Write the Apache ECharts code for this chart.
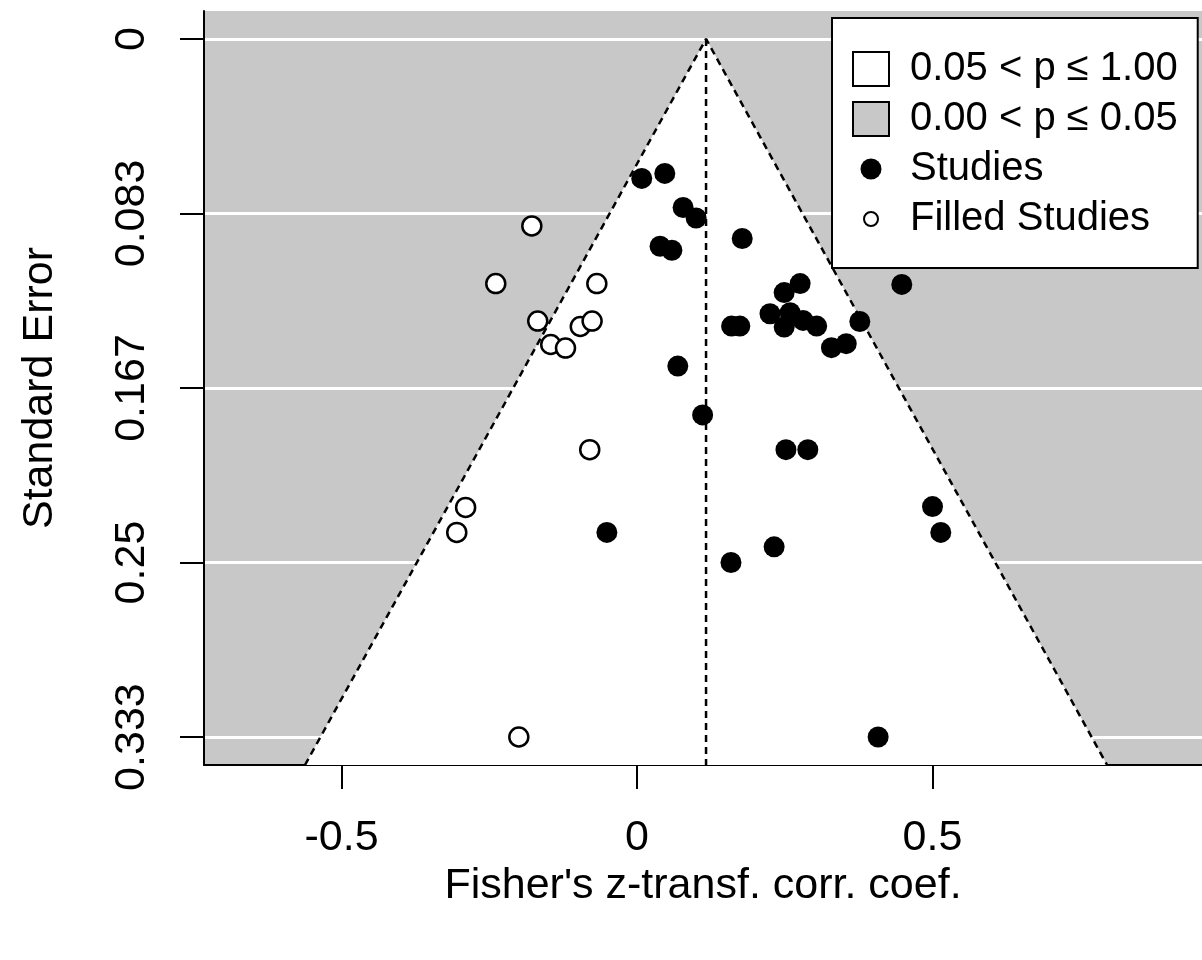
<!DOCTYPE html>
<html><head><meta charset="utf-8">
<script src="https://cdn.jsdelivr.net/npm/echarts@6/dist/echarts.min.js"></script>
<style>html,body{margin:0;padding:0;background:#fff}#c{width:1202px;height:960px}</style>
</head><body><div id="c"></div>
<script>
// Observed studies (Fisher's z, standard error)
const studiesZ  = [0.008, 0.047, 0.078, 0.100, 0.039, 0.059, 0.178, 0.448, 0.276, 0.249,
                   0.225, 0.259, 0.249, 0.281, 0.304, 0.377, 0.329, 0.354, 0.160, 0.174,
                   0.069, 0.111, 0.252, 0.289, 0.500, 0.514, -0.051, 0.232, 0.159, 0.408, 0.388];
const studiesSE = [0.0666, 0.0642, 0.0805, 0.0855, 0.0990, 0.1009, 0.0953, 0.1172, 0.1168, 0.1211,
                   0.1312, 0.1307, 0.1376, 0.1344, 0.1371, 0.1349, 0.1474, 0.1455, 0.1371, 0.1371,
                   0.1562, 0.1795, 0.1961, 0.1961, 0.2233, 0.2356, 0.2356, 0.2425, 0.2500, 0.3333, 0.0893];
// Filled (imputed) studies
const filledZ  = [-0.178, -0.239, -0.068, -0.168, -0.096, -0.076, -0.146, -0.121, -0.080, -0.290, -0.305, -0.200];
const filledSE = [0.0893, 0.1168, 0.1168, 0.1347, 0.1373, 0.1347, 0.1459, 0.1476, 0.1961, 0.2237, 0.2356, 0.3333];
// Funnel (95% pseudo-confidence region) and reference line
const funnelZ  = [-0.5618, 0.1168, 0.7954];
const funnelSE = [0.346667, 0, 0.346667];
const refZ  = [0.1168, 0.1168];
const refSE = [0, 0.346667];
// Axes
const xRange = [-0.7327, 0.956];
const seRange = [-0.013333, 0.346667];
const xTicks = [-0.5, 0, 0.5];
const xTickLabels = ['-0.5', '0', '0.5'];
const seTicks = [0, 0.083333, 0.166667, 0.25, 0.333333];
const seTickLabels = ['0', '0.083', '0.167', '0.25', '0.333'];
const legendLabels = ['0.05 < p \u2264 1.00', '0.00 < p \u2264 0.05', 'Studies', 'Filled Studies'];
const xTitle = "Fisher's z-transf. corr. coef.";
const yTitle = 'Standard Error';

const FONT = "'Liberation Sans', Arial, sans-serif";
const GRAY = '#c8c8c8';

function pick(ticks, labels, v) {
  for (let i = 0; i < ticks.length; i++) if (Math.abs(ticks[i] - v) < 1e-6) return labels[i];
  return '';
}

const chart = echarts.init(document.getElementById('c'), null, {renderer: 'canvas'});
chart.setOption({
  animation: false,
  backgroundColor: '#fff',
  grid: {left: 204, right: 0, top: 11, bottom: 195, show: true, backgroundColor: GRAY, borderWidth: 0},
  xAxis: {
    type: 'value', min: xRange[0], max: xRange[1],
    name: xTitle, nameLocation: 'middle', nameGap: 98,
    nameTextStyle: {fontFamily: FONT, fontSize: 43, color: '#000'},
    axisLine: {onZero: false, lineStyle: {color: '#000', width: 2}},
    axisTick: {length: 24, lineStyle: {color: '#000', width: 2}, customValues: xTicks},
    axisLabel: {fontFamily: FONT, fontSize: 43, color: '#000', margin: 52, customValues: xTicks,
      formatter: v => pick(xTicks, xTickLabels, v)},
    splitLine: {show: false}
  },
  yAxis: {
    type: 'value', inverse: true, min: seRange[0], max: seRange[1],
    name: yTitle, nameLocation: 'middle', nameGap: 142, nameRotate: 90,
    nameTextStyle: {fontFamily: FONT, fontSize: 43, color: '#000'},
    axisLine: {onZero: false, lineStyle: {color: '#000', width: 2}},
    axisTick: {length: 24, lineStyle: {color: '#000', width: 2}, customValues: seTicks},
    axisLabel: {fontFamily: FONT, fontSize: 43, color: '#000', margin: 50, rotate: 90, customValues: seTicks,
      formatter: v => pick(seTicks, seTickLabels, v)},
    splitLine: {show: true, lineStyle: {color: '#fff', width: 3}}
  },
  legend: {
    orient: 'vertical', left: 832, top: 18,
    padding: [30, 20, 28, 20], itemGap: 8, itemWidth: 36, itemHeight: 34,
    backgroundColor: '#fff', borderColor: '#000', borderWidth: 2, borderRadius: 0,
    selectedMode: false,
    textStyle: {fontFamily: FONT, fontSize: 40, color: '#000', lineHeight: 42, padding: [0, 0, 0, 16]},
    data: [
      {name: legendLabels[0], icon: 'rect', itemStyle: {color: '#fff', borderColor: '#000', borderWidth: 2}},
      {name: legendLabels[1], icon: 'rect', itemStyle: {color: GRAY, borderColor: '#000', borderWidth: 2}},
      {name: legendLabels[2], icon: 'path://M0,0M36,34M7.5,17A10.5,10.5,0,1,0,28.5,17A10.5,10.5,0,1,0,7.5,17Z',
        itemStyle: {color: '#000', borderWidth: 0}},
      {name: legendLabels[3], icon: 'path://M0,0M36,34M11,17A7,7,0,1,0,25,17A7,7,0,1,0,11,17Z',
        itemStyle: {color: '#fff', borderColor: '#000', borderWidth: 2}}
    ]
  },
  series: [
    {
      name: legendLabels[1], type: 'custom', data: [], itemStyle: {color: GRAY},
      renderItem: () => null
    },
    {
      name: legendLabels[0], type: 'custom', z: 1, itemStyle: {color: '#fff'},
      data: funnelZ.map((z, i) => [z, funnelSE[i]]),
      encode: {x: 0, y: 1},
      renderItem: function (params, api) {
        if (params.dataIndex !== 0) return null;
        const pts = funnelZ.map((z, i) => api.coord([z, funnelSE[i]]));
        return {type: 'polygon', shape: {points: pts}, style: {fill: '#fff'}};
      }
    },
    {
      type: 'line', z: 2, symbol: 'none', silent: true,
      data: funnelZ.map((z, i) => [z, funnelSE[i]]),
      lineStyle: {color: '#000', width: 2.5, type: [7, 5]}
    },
    {
      type: 'line', z: 2, symbol: 'none', silent: true,
      data: refZ.map((z, i) => [z, refSE[i]]),
      lineStyle: {color: '#000', width: 2.5, type: [7, 5]}
    },
    {
      name: legendLabels[2], type: 'scatter', z: 3, symbol: 'circle', symbolSize: 21,
      itemStyle: {color: '#000', opacity: 1},
      data: studiesZ.map((z, i) => [z, studiesSE[i]])
    },
    {
      name: legendLabels[3], type: 'scatter', z: 3, symbol: 'circle', symbolSize: 19,
      itemStyle: {color: '#fff', borderColor: '#000', borderWidth: 2.5, opacity: 1},
      data: filledZ.map((z, i) => [z, filledSE[i]])
    }
  ]
});
</script>
</body></html>
